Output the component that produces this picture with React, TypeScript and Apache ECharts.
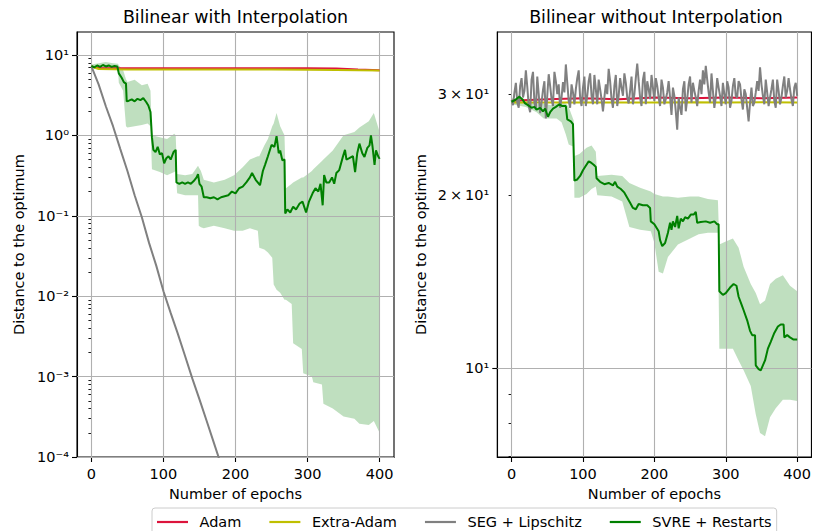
import React, { useEffect, useRef } from 'react';
import * as echarts from 'echarts';

const FONT = 'DejaVu Sans';

// ---------- shared ticks ----------
const xTicks = [0, 100, 200, 300, 400];
const yTickValuesL = [1e-4, 1e-3, 1e-2, 1e-1, 1, 10];
const yTickLabelsL = ['10⁻⁴', '10⁻³', '10⁻²', '10⁻¹', '10⁰', '10¹'];
const minorMultipliers = [2, 3, 4, 5, 6, 7, 8, 9];
const yTickValuesR = [10, 20, 30];
const yTickLabelsR = ['10¹', '2\u2009×\u200910¹', '3\u2009×\u200910¹'];
const yMinorTicksR = [7, 8, 9, 20, 30];
const yGridR = [10];

// ---------- left panel: Bilinear with Interpolation ----------
const adamLEpochs = [0, 10, 50, 100, 150, 200, 250, 300, 340, 370, 400];
const adamL = [7.2, 6.9, 6.85, 6.85, 6.85, 6.85, 6.85, 6.84, 6.8, 6.6, 6.45];
const extraAdamL = [7.2, 6.7, 6.6, 6.6, 6.6, 6.6, 6.58, 6.55, 6.5, 6.45, 6.4];

const segLEpochs = [0, 10, 20, 30, 40, 50, 60, 70, 80, 90, 100, 110, 120, 130, 140, 150, 160, 170, 180];
const segL = [7.2, 4.3, 2.3, 1.3, 0.68, 0.36, 0.18, 0.096, 0.046, 0.024, 0.0115, 0.0062, 0.0034, 0.0018, 0.00095, 0.00052, 0.00028, 0.00015, 0.00008];

const svreLEpochs = [0, 4, 8, 12, 16, 20, 24, 28, 32, 36, 38, 42, 45, 48, 49, 52, 56, 60, 64, 68, 72, 76, 79, 82, 84, 86, 89, 92, 95, 98, 101, 104, 107, 110, 114, 117, 118, 122, 126, 130, 134, 138, 142, 146, 148, 150, 153, 156, 160, 165, 170, 175, 180, 185, 190, 195, 200, 205, 210, 215, 220, 223, 228, 234, 238, 241, 245, 250, 254, 257, 260, 262, 265, 268, 269, 272, 276, 280, 284, 289, 293, 298, 302, 307, 311, 315, 318, 321, 323, 326, 330, 334, 337, 340, 344, 349, 352, 354, 358, 363, 366, 369, 372, 376, 379, 383, 386, 388, 390, 393, 395, 398, 400];
const svreL = [7.3, 7.0, 7.4, 7.1, 7.5, 7.2, 7.4, 7.1, 7.3, 7.2, 5.9, 5.2, 4.6, 4.4, 2.65, 2.7, 2.8, 2.65, 2.85, 2.75, 2.9, 2.6, 2.35, 1.95, 0.95, 0.66, 0.62, 0.72, 0.58, 0.6, 0.45, 0.52, 0.55, 0.5, 0.62, 0.66, 0.26, 0.25, 0.26, 0.25, 0.26, 0.25, 0.27, 0.3, 0.33, 0.25, 0.23, 0.17, 0.17, 0.165, 0.17, 0.16, 0.17, 0.175, 0.18, 0.2, 0.19, 0.22, 0.23, 0.26, 0.3, 0.34, 0.28, 0.24, 0.36, 0.43, 0.55, 0.76, 0.72, 0.98, 0.6, 0.65, 0.49, 0.5, 0.107, 0.12, 0.11, 0.13, 0.12, 0.142, 0.15, 0.11, 0.15, 0.19, 0.22, 0.2, 0.25, 0.135, 0.32, 0.26, 0.26, 0.3, 0.25, 0.34, 0.37, 0.54, 0.66, 0.5, 0.52, 0.55, 0.35, 0.6, 0.79, 0.6, 0.54, 0.7, 0.75, 1.0, 0.75, 0.43, 0.65, 0.55, 0.51];

const bandLEpochs = [0, 10, 20, 30, 37, 38, 44, 48, 50, 60, 70, 78, 82, 84, 95, 105, 115, 117, 119, 130, 140, 148, 149, 152, 156, 170, 185, 198, 210, 220, 231, 233, 240, 245, 251, 253, 257, 262, 268, 270, 278, 280, 292, 294, 306, 308, 320, 322, 335, 350, 365, 372, 385, 392, 400];
const bandLLower = [7.0, 6.8, 6.6, 6.7, 6.6, 4.5, 3.6, 1.3, 1.25, 1.3, 1.35, 1.4, 1.3, 0.38, 0.35, 0.32, 0.35, 0.36, 0.19, 0.18, 0.18, 0.18, 0.075, 0.072, 0.07, 0.075, 0.07, 0.065, 0.065, 0.07, 0.065, 0.04, 0.038, 0.035, 0.03, 0.014, 0.012, 0.011, 0.009, 0.009, 0.008, 0.0026, 0.0022, 0.0011, 0.001, 0.00085, 0.0008, 0.00046, 0.0004, 0.00032, 0.0003, 0.00026, 0.00025, 0.00028, 0.0002];
const bandLUpper = [7.6, 7.9, 8.2, 7.9, 7.8, 7.4, 6.5, 5.0, 4.6, 4.9, 4.2, 4.4, 3.6, 1.0, 0.95, 0.9, 1.05, 1.0, 0.33, 0.32, 0.33, 0.42, 0.4, 0.36, 0.28, 0.26, 0.28, 0.32, 0.4, 0.5, 0.55, 0.55, 0.75, 0.9, 1.3, 1.4, 1.9, 1.3, 1.0, 0.22, 0.25, 0.26, 0.3, 0.3, 0.36, 0.38, 0.48, 0.5, 0.65, 1.0, 1.1, 1.25, 1.5, 1.9, 1.1];

// ---------- right panel: Bilinear without Interpolation ----------
const adamREpochs = [0, 50, 100, 150, 200, 250, 300, 350, 400];
const adamR = [29.2, 29.4, 29.5, 29.4, 29.6, 29.5, 29.6, 29.5, 29.6];
const extraAdamR = [29.0, 29.0, 29.0, 29.0, 29.0, 29.05, 29.0, 29.05, 29.0];

const segREpochs = [
  0, 2, 4, 6, 8, 10, 12, 14, 16, 18, 20, 22, 24, 26, 28, 30, 32, 34, 36, 38,
  40, 42, 44, 46, 48, 50, 52, 54, 56, 58, 60, 62, 64, 66, 68, 70, 72, 74, 76, 78,
  80, 82, 84, 86, 88, 90, 92, 94, 96, 98, 100, 102, 104, 106, 108, 110, 112, 114, 116, 118,
  120, 122, 124, 126, 128, 130, 132, 134, 136, 138, 140, 142, 144, 146, 148, 150, 152, 154, 156, 158,
  160, 162, 164, 166, 168, 170, 172, 174, 176, 178, 180, 182, 184, 186, 188, 190, 192, 194, 196, 198,
  200, 202, 204, 206, 208, 210, 212, 214, 216, 218, 220, 222, 224, 226, 228, 230, 232, 234, 236, 238,
  240, 242, 244, 246, 248, 250, 252, 254, 256, 258, 260, 262, 264, 266, 268, 270, 272, 274, 276, 278,
  280, 282, 284, 286, 288, 290, 292, 294, 296, 298, 300, 302, 304, 306, 308, 310, 312, 314, 316, 318,
  320, 322, 324, 326, 328, 330, 332, 334, 336, 338, 340, 342, 344, 346, 348, 350, 352, 354, 356, 358,
  360, 362, 364, 366, 368, 370, 372, 374, 376, 378, 380, 382, 384, 386, 388, 390, 392, 394, 396, 398, 400];
const segR = [
  29.3, 28.7, 30.2, 31.4, 29.0, 28.4, 31.0, 32.0, 29.6, 30.4, 33.0, 30.9, 28.6, 27.9, 31.8, 32.8, 29.0, 28.2, 32.2, 30.0,
  27.8, 29.0, 30.5, 31.6, 27.2, 29.8, 32.5, 31.0, 29.4, 28.6, 32.8, 31.6, 30.0, 31.2, 28.4, 29.6, 31.5, 30.2, 33.8, 31.4,
  29.2, 28.4, 31.2, 30.2, 28.8, 30.6, 32.0, 33.0, 29.6, 28.6, 30.8, 32.2, 28.6, 29.8, 31.6, 32.6, 29.8, 28.8, 32.4, 30.6,
  28.8, 31.8, 30.6, 29.4, 28.0, 29.6, 31.2, 30.0, 33.2, 31.6, 29.4, 28.4, 31.0, 32.4, 28.6, 29.8, 32.0, 30.8, 29.8, 32.6,
  31.4, 29.6, 28.9, 30.4, 32.2, 28.8, 30.0, 32.0, 33.9, 31.6, 29.6, 28.6, 31.8, 32.8, 28.8, 31.6, 30.6, 29.4, 32.4, 30.8,
  29.2, 32.0, 31.0, 29.6, 28.6, 31.8, 30.8, 28.8, 29.4, 30.2, 31.6, 29.6, 27.6, 30.8, 29.8, 28.0, 26.0, 29.6, 28.4, 27.6,
  30.6, 31.6, 28.0, 29.4, 31.2, 32.2, 29.0, 31.4, 30.4, 29.6, 28.6, 30.4, 31.8, 30.0, 33.0, 31.2, 33.6, 31.8, 30.2, 29.0,
  32.6, 30.4, 28.4, 29.6, 32.0, 30.8, 29.8, 28.6, 31.4, 30.0, 28.8, 31.6, 30.8, 28.4, 29.2, 31.0, 32.0, 29.8, 29.6, 31.6,
  31.2, 29.4, 28.2, 30.6, 30.0, 28.4, 26.9, 29.0, 30.8, 28.6, 29.0, 30.2, 31.6, 30.4, 33.4, 31.2, 29.8, 28.8, 31.8, 30.2,
  28.6, 29.6, 30.6, 31.8, 29.2, 28.4, 31.8, 30.4, 28.8, 29.6, 31.0, 32.2, 29.6, 30.4, 32.0, 30.6, 29.4, 28.6, 30.8, 31.4, 29.8];

const svreREpochs = [0, 5, 11, 15, 19, 23, 28, 32, 35, 40, 44, 47, 51, 54, 58, 62, 67, 71, 76, 78, 83, 86, 88, 92, 96, 100, 104, 108, 111, 115, 118, 119, 124, 130, 136, 142, 145, 148, 153, 158, 162, 166, 170, 174, 178, 184, 190, 194, 195, 200, 206, 208, 211, 215, 219, 222, 224, 226, 229, 232, 234, 237, 240, 243, 247, 251, 255, 258, 260, 265, 272, 278, 284, 288, 290, 291, 296, 300, 306, 311, 315, 318, 322, 325, 330, 334, 337, 341, 342, 346, 349, 352, 355, 359, 363, 368, 373, 377, 381, 382, 386, 390, 395, 400];
const svreR = [29.1, 29.3, 29.7, 29.4, 28.9, 28.7, 28.4, 28.5, 28.2, 28.4, 28.0, 28.3, 27.4, 27.9, 28.3, 28.5, 28.8, 28.6, 28.6, 27.1, 26.9, 26.6, 21.2, 21.3, 21.6, 22.1, 22.5, 22.9, 22.8, 22.6, 22.4, 21.4, 21.1, 20.9, 21.0, 20.8, 21.1, 20.7, 20.5, 20.2, 19.8, 19.4, 19.0, 18.9, 19.3, 19.2, 19.2, 19.0, 18.0, 17.8, 17.3, 16.7, 16.3, 16.5, 17.2, 17.9, 17.4, 18.0, 17.6, 18.4, 17.5, 18.2, 18.0, 18.3, 18.2, 18.5, 18.5, 18.7, 17.9, 17.95, 18.0, 17.9, 18.0, 17.8, 17.8, 13.6, 13.4, 13.5, 13.8, 14.0, 13.9, 13.3, 12.9, 12.6, 12.1, 11.6, 11.4, 11.4, 10.1, 9.95, 9.9, 10.1, 10.3, 10.8, 11.1, 11.5, 11.8, 11.9, 11.9, 11.3, 11.4, 11.3, 11.2, 11.2];

const bandREpochs = [0, 20, 35, 45, 55, 63, 70, 76, 80, 87, 88, 95, 105, 112, 118, 120, 140, 155, 165, 180, 195, 200, 206, 212, 219, 233, 250, 262, 275, 289, 291, 300, 310, 318, 325, 335, 342, 348, 355, 362, 370, 380, 390, 400];
const bandRLower = [28.8, 28.5, 27.9, 27.2, 27.2, 27.2, 26.8, 25.5, 24.5, 24.3, 19.8, 19.8, 20.1, 20.5, 20.7, 20.0, 19.9, 19.5, 17.6, 17.4, 17.3, 16.5, 14.7, 14.6, 15.6, 16.4, 16.8, 17.1, 17.2, 17.2, 10.8, 10.8, 10.8, 10.3, 9.9, 9.3, 8.3, 7.7, 7.6, 8.2, 8.5, 8.8, 8.8, 8.75];
const bandRUpper = [29.5, 29.4, 28.8, 28.9, 28.7, 28.9, 29.0, 28.9, 28.5, 27.0, 23.4, 23.6, 24.2, 24.4, 23.8, 21.6, 21.7, 21.6, 21.0, 20.6, 20.3, 20.1, 20.0, 19.9, 19.9, 19.8, 19.9, 19.9, 19.7, 19.6, 16.4, 16.6, 16.8, 16.2, 15.0, 14.0, 13.5, 12.9, 13.1, 14.0, 14.3, 14.5, 13.9, 13.6];

// ---------- colours ----------
const C_ADAM = '#dc143c';
const C_EXTRA = '#bfbf00';
const C_SEG = '#808080';
const C_SVRE = '#008000';
const C_BAND = 'rgba(0,128,0,0.25)';
const C_GRID = '#b0b0b0';

const LOG = Math.log10;

function pairs(xs: number[], ys: number[]) {
  return xs.map((x, i) => [x, LOG(ys[i])]);
}

function minorTicksFor(min: number, max: number) {
  const out: number[] = [];
  for (let d = -5; d <= 2; d++) {
    for (const m of minorMultipliers) {
      const v = m * Math.pow(10, d);
      if (v > min && v < max) out.push(LOG(v));
    }
  }
  return out;
}

function lookupLabel(values: number[], labels: string[], v: number) {
  for (let i = 0; i < values.length; i++) {
    if (Math.abs(LOG(values[i]) - v) < 1e-6) return labels[i];
  }
  return '';
}

const axisText = { color: '#000', fontSize: 14.5, fontFamily: FONT };
const spine = { color: '#000', width: 1.1 };

function lineSeries(name: string, color: string, xi: number, yi: number, xs: number[], ys: number[], gridY?: number[]) {
  const s: any = {
    type: 'line', name, xAxisIndex: xi, yAxisIndex: yi,
    data: pairs(xs, ys), symbol: 'none', showSymbol: false, color,
    lineStyle: { color, width: 2 }, z: 3, silent: true, emphasis: { disabled: true },
  };
  if (gridY) {
    s.markLine = {
      silent: true, symbol: ['none', 'none'], label: { show: false }, z: 2, animation: false,
      lineStyle: { color: C_GRID, width: 1.1, type: 'solid' },
      emphasis: { disabled: true },
      data: [...xTicks.map((v) => ({ xAxis: v })), ...gridY.map((v) => ({ yAxis: LOG(v) }))],
    };
  }
  return s;
}

function bandSeries(id: string, xi: number, yi: number, xs: number[], lo: number[], hi: number[]) {
  return {
    type: 'custom', name: id, xAxisIndex: xi, yAxisIndex: yi, z: 1, silent: true, clip: true,
    data: xs.map((x, i) => [x, LOG(lo[i]), LOG(hi[i])]),
    encode: { x: 0, y: [1, 2] },
    renderItem: (params: any, api: any) => {
      if (params.dataIndex !== 0) return null;
      const upper = xs.map((x, i) => api.coord([x, LOG(hi[i])]));
      const lower = xs.map((x, i) => api.coord([x, LOG(lo[i])])).reverse();
      return {
        type: 'polygon',
        shape: { points: [...upper, ...lower] },
        style: { fill: C_BAND, stroke: 'none' },
      };
    },
  };
}

function xAxisFor(gridIndex: number) {
  return {
    type: 'value', gridIndex, min: -20, max: 420,
    splitLine: { show: false },
    axisLine: { show: true, onZero: false, lineStyle: spine },
    axisTick: { show: true, inside: false, length: 5, customValues: xTicks, lineStyle: spine },
    axisLabel: { customValues: xTicks, margin: 9, ...axisText },
    name: 'Number of epochs', nameLocation: 'middle', nameGap: 29, nameTextStyle: axisText,
  };
}

const Y_MIN_L = LOG(1e-4);
const Y_MAX_L = LOG(19.3);
const Y_MIN_R = LOG(6.99);
const Y_MAX_R = LOG(38.5);

export default function App() {
  const ref = useRef<HTMLDivElement>(null);
  useEffect(() => {
    if (!ref.current) return;
    const chart = echarts.init(ref.current, undefined, { renderer: 'svg' });
    const majorL = yTickValuesL.map(LOG);
    const option: any = {
      animation: false,
      backgroundColor: '#ffffff',
      textStyle: { fontFamily: FONT },
      title: [
        { text: 'Bilinear with Interpolation', left: 235.5, top: 8, textAlign: 'center', padding: 0,
          textStyle: { fontSize: 17.4, fontWeight: 'normal', color: '#000', fontFamily: FONT } },
        { text: 'Bilinear without Interpolation', left: 656, top: 8, textAlign: 'center', padding: 0,
          textStyle: { fontSize: 17.4, fontWeight: 'normal', color: '#000', fontFamily: FONT } },
      ],
      legend: {
        left: 152, top: 508, orient: 'horizontal', selectedMode: false,
        data: ['Adam', 'Extra-Adam', 'SEG + Lipschitz', 'SVRE + Restarts'],
        icon: 'rect', itemWidth: 31, itemHeight: 2.2, itemGap: 28,
        padding: [6.5, 5, 8, 5],
        backgroundColor: '#ffffff', borderColor: '#cccccc', borderWidth: 1, borderRadius: 3,
        textStyle: { ...axisText, padding: [0, 0, 0, 6.5] },
      },
      grid: [
        { left: 77, top: 32, width: 317, height: 425, show: true, borderColor: '#000', borderWidth: 1.1, backgroundColor: 'transparent' },
        { left: 497.3, top: 32, width: 317.4, height: 425, show: true, borderColor: '#000', borderWidth: 1.1, backgroundColor: 'transparent' },
      ],
      xAxis: [xAxisFor(0), xAxisFor(1)],
      yAxis: [
        {
          type: 'value', gridIndex: 0, position: 'left', min: Y_MIN_L, max: Y_MAX_L,
          splitLine: { show: false },
          axisLine: { show: true, onZero: false, lineStyle: spine },
          axisTick: { show: true, inside: false, length: 5, customValues: majorL, lineStyle: spine },
          axisLabel: { customValues: majorL, margin: 8, ...axisText,
            formatter: (v: number) => lookupLabel(yTickValuesL, yTickLabelsL, v) },
          name: 'Distance to the optimum', nameLocation: 'middle', nameRotate: 90, nameGap: 51, nameTextStyle: axisText,
        },
        {
          type: 'value', gridIndex: 0, position: 'left', min: Y_MIN_L, max: Y_MAX_L,
          splitLine: { show: false }, axisLine: { show: false },
          axisTick: { show: true, inside: false, length: 3, customValues: minorTicksFor(1e-4, 19.3), lineStyle: { color: '#000', width: 0.9 } },
          axisLabel: { show: false },
        },
        {
          type: 'value', gridIndex: 1, position: 'left', min: Y_MIN_R, max: Y_MAX_R,
          splitLine: { show: false },
          axisLine: { show: true, onZero: false, lineStyle: spine },
          axisTick: { show: true, inside: false, length: 5, customValues: yGridR.map(LOG), lineStyle: spine },
          axisLabel: { customValues: yTickValuesR.map(LOG), margin: 8, ...axisText,
            formatter: (v: number) => lookupLabel(yTickValuesR, yTickLabelsR, v) },
          name: 'Distance to the optimum', nameLocation: 'middle', nameRotate: 90, nameGap: 69, nameTextStyle: axisText,
        },
        {
          type: 'value', gridIndex: 1, position: 'left', min: Y_MIN_R, max: Y_MAX_R,
          splitLine: { show: false }, axisLine: { show: false },
          axisTick: { show: true, inside: false, length: 3, customValues: yMinorTicksR.map(LOG), lineStyle: { color: '#000', width: 0.9 } },
          axisLabel: { show: false },
        },
      ],
      series: [
        bandSeries('bandL', 0, 0, bandLEpochs, bandLLower, bandLUpper),
        lineSeries('Adam', C_ADAM, 0, 0, adamLEpochs, adamL, yTickValuesL),
        lineSeries('Extra-Adam', C_EXTRA, 0, 0, adamLEpochs, extraAdamL),
        lineSeries('SEG + Lipschitz', C_SEG, 0, 0, segLEpochs, segL),
        lineSeries('SVRE + Restarts', C_SVRE, 0, 0, svreLEpochs, svreL),
        bandSeries('bandR', 1, 2, bandREpochs, bandRLower, bandRUpper),
        lineSeries('Adam', C_ADAM, 1, 2, adamREpochs, adamR, yGridR),
        lineSeries('Extra-Adam', C_EXTRA, 1, 2, adamREpochs, extraAdamR),
        lineSeries('SEG + Lipschitz', C_SEG, 1, 2, segREpochs, segR),
        lineSeries('SVRE + Restarts', C_SVRE, 1, 2, svreREpochs, svreR),
      ],
    };
    chart.setOption(option);
    return () => chart.dispose();
  }, []);
  return (
    <div
      ref={ref}
      style={{ position: 'absolute', left: 0, top: 0, width: 814, height: 531, background: '#fff' }}
    />
  );
}
